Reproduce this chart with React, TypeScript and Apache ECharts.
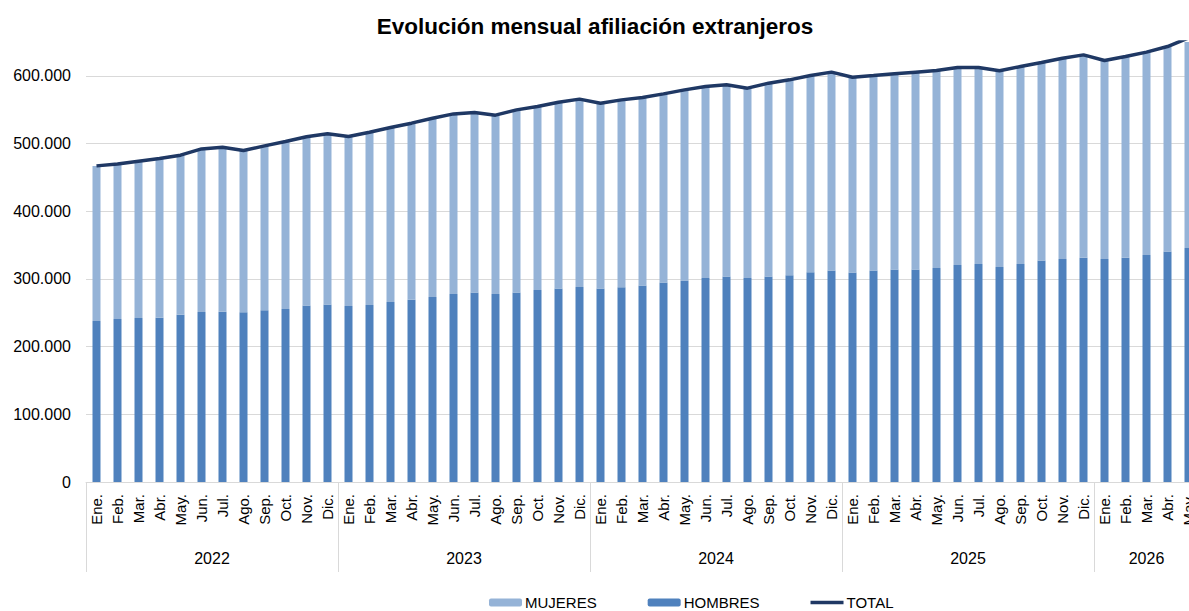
import React, { useEffect, useRef } from "react";
import * as echarts from "echarts";

const months = ["Ene.", "Feb.", "Mar.", "Abr.", "May.", "Jun.", "Jul.", "Ago.", "Sep.", "Oct.", "Nov.", "Dic."];
const years = ["2022", "2023", "2024", "2025", "2026"];
const monthsPerYear = [12, 12, 12, 12, 5];

const hombres = [
  238000, 240900, 242400, 242600, 247200, 251200, 251400, 250600, 253700, 255700, 260600, 262100,
  260100, 261600, 266000, 269400, 273400, 277800, 279800, 277800, 279800, 283700, 285700, 288200,
  285700, 287700, 290100, 294600, 297500, 301500, 303400, 301500, 303400, 305500, 309900, 312300,
  309400, 312300, 313800, 313800, 316300, 320700, 322200, 317700, 322200, 327100, 329600, 331100,
  329600, 331100, 335500, 340400, 345800,
];

const mujeres = [
  229000, 229000, 231500, 235200, 235600, 240900, 243200, 239000, 242800, 247200, 249400, 252400,
  250200, 255100, 257600, 260700, 264000, 266000, 266000, 264100, 269900, 270900, 275400, 277400,
  273900, 276800, 277900, 278800, 281800, 282700, 283300, 280300, 285800, 288600, 290500, 293200,
  288600, 288100, 289200, 291600, 291500, 291600, 290100, 289700, 291500, 292600, 296500, 299900,
  293000, 297400, 299500, 302900, 310200,
];

const total = [
  467000, 469900, 473900, 477800, 482800, 492100, 494600, 489600, 496500, 502900, 510000, 514500,
  510300, 516700, 523600, 530100, 537400, 543800, 545800, 541900, 549700, 554600, 561100, 565600,
  559600, 564500, 568000, 573400, 579300, 584200, 586700, 581800, 589200, 594100, 600400, 605500,
  598000, 600400, 603000, 605400, 607800, 612300, 612300, 607400, 613700, 619700, 626100, 631000,
  622600, 628500, 635000, 643300, 656000,
];

const seriesNames = ["MUJERES", "HOMBRES", "TOTAL"];

const categories: string[] = years.flatMap((_, k) => months.slice(0, monthsPerYear[k]));
const yearAxisData: string[] = years.flatMap((y, k) => {
  const n = monthsPerYear[k];
  const even = n % 2 === 0;
  const at = even ? n / 2 : (n - 1) / 2;
  return Array.from({ length: n }, (_, j) => (j === at ? (even ? `{s|${y}}` : `{c|${y}}`) : ""));
});

const fmt = (v: number) => String(v).replace(/\B(?=(\d{3})+(?!\d))/g, ".");

export default function App() {
  const ref = useRef<HTMLDivElement>(null);
  useEffect(() => {
    if (!ref.current) return;
    const chart = echarts.init(ref.current, null, { renderer: "svg" });
    const font = "'Liberation Sans', Arial, sans-serif";
    chart.setOption({
      animation: false,
      backgroundColor: "#ffffff",
      title: {
        text: "Evolución mensual afiliación extranjeros",
        left: 595,
        textAlign: "center",
        top: 15,
        padding: 0,
        textStyle: { fontFamily: font, fontWeight: "bold", fontSize: 22.5, color: "#000" },
      },
      legend: {
        data: [
          { name: seriesNames[0] },
          { name: seriesNames[1] },
          { name: seriesNames[2], icon: "path://M0,0H33V3.5H0Z" },
        ],
        left: 489,
        top: 595,
        padding: 0,
        itemWidth: 33,
        itemHeight: 8,
        itemGap: 51,
        textStyle: { fontFamily: font, fontSize: 15, color: "#000", padding: [0, 0, 0, -2] },
      },
      grid: { left: 86, top: 42, width: 1113, height: 440, outerBoundsMode: "none" },
      xAxis: [
        {
          type: "category",
          data: categories,
          axisLine: { show: true, lineStyle: { color: "#d9d9d9", width: 1 } },
          axisTick: { show: false },
          axisLabel: {
            interval: 0,
            rotate: 90,
            margin: 12,
            fontFamily: font,
            fontSize: 15,
            color: "#000000",
          },
        },
        {
          type: "category",
          data: yearAxisData,
          position: "bottom",
          axisLine: { show: false },
          axisTick: {
            show: true,
            interval: (i: number) => {
              let acc = 0;
              for (const n of monthsPerYear) {
                if (i === acc) return true;
                acc += n;
              }
              return false;
            },
            length: 90,
            lineStyle: { color: "#d9d9d9", width: 1 },
          },
          axisLabel: {
            interval: 0,
            margin: 68,
            fontFamily: font,
            fontSize: 16,
            color: "#000",
            rich: {
              s: { fontFamily: font, fontSize: 16, color: "#000", padding: [0, 21, 0, 0] },
              c: { fontFamily: font, fontSize: 16, color: "#000" },
            },
          },
        },
      ],
      yAxis: {
        type: "value",
        min: 0,
        max: 650000,
        interval: 100000,
        axisLine: { show: false },
        axisTick: { show: false },
        splitLine: { show: true, showMaxLine: false, lineStyle: { color: "#d9d9d9", width: 1 } },
        axisLabel: {
          showMaxLabel: false,
          margin: 15,
          fontFamily: font,
          fontSize: 16,
          color: "#000",
          formatter: (v: number) => fmt(v),
        },
      },
      series: [
        { name: "HOMBRES", type: "bar", stack: "s", data: hombres, barWidth: 8, itemStyle: { color: "#4f81bd" } },
        { name: "MUJERES", type: "bar", stack: "s", data: mujeres, barWidth: 8, itemStyle: { color: "#95b3d7" } },
        {
          name: "TOTAL",
          type: "line",
          data: total,
          symbol: "none",
          z: 5,
          lineStyle: { color: "#1f3864", width: 3.5 },
          itemStyle: { color: "#1f3864" },
        },
      ],
    });
    return () => chart.dispose();
  }, []);
  return (
    <div style={{ position: "fixed", left: 0, top: 0, width: 1189, height: 611, overflow: "hidden", background: "#fff" }}>
      <div ref={ref} style={{ width: 1230, height: 611 }} />
    </div>
  );
}
